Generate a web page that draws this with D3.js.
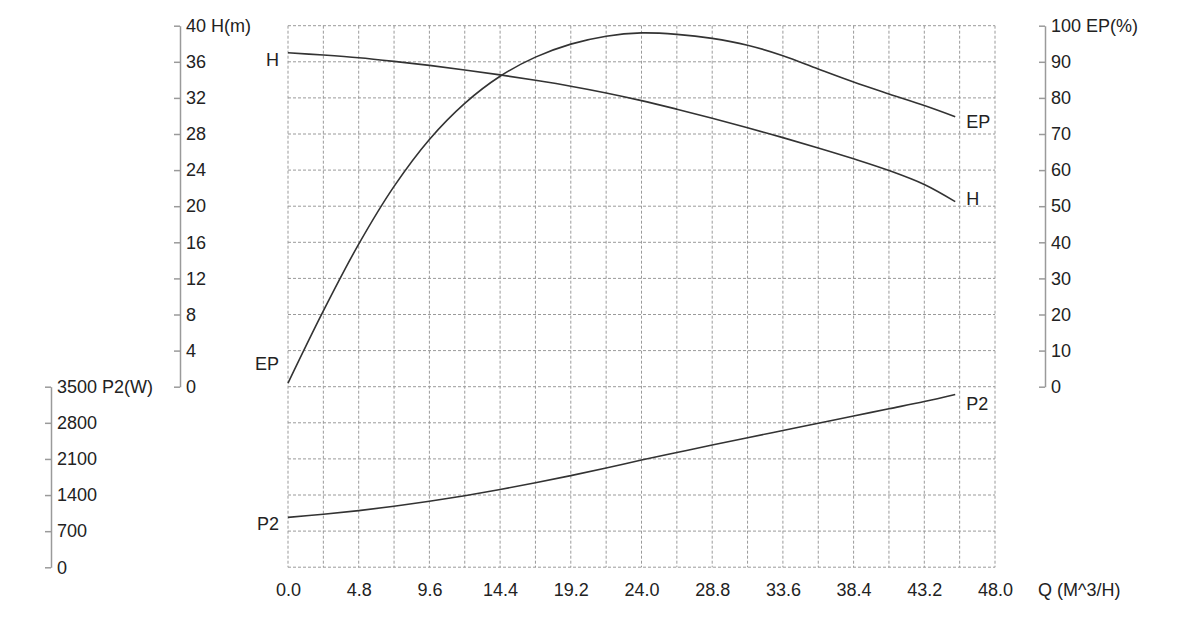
<!DOCTYPE html>
<html>
<head>
<meta charset="utf-8">
<script src="https://cdn.jsdelivr.net/npm/d3@7"></script>
<style>
  body { margin: 0; background: #fff; }
  text { font-family: "Liberation Sans", Arial, Helvetica, sans-serif; fill: #222; }
</style>
</head>
<body>
<script>
const width = 1183;
const height = 626;

// flow points (m^3/h) the curves were read at
const flowQ = [0, 2.4, 4.8, 7.2, 9.6, 12, 14.4, 16.8, 19.2, 21.6, 24, 26.4, 28.8, 31.2, 33.6, 36, 38.4, 40.8, 43.2, 45.3];
const headH = [37.0, 36.75, 36.45, 36.05, 35.6, 35.1, 34.55, 33.95, 33.3, 32.55, 31.7, 30.75, 29.75, 28.7, 27.6, 26.45, 25.25, 23.95, 22.4, 20.5];
const effEP = [1, 21, 39.5, 55.5, 68.5, 78.5, 86, 91.3, 94.9, 97.1, 98.0, 97.6, 96.5, 94.6, 91.7, 88.0, 84.4, 81.1, 77.9, 74.8];
const powerP2 = [967, 1028, 1099, 1183, 1279, 1387, 1507, 1637, 1777, 1925, 2079, 2225, 2370, 2512, 2652, 2792, 2932, 3072, 3212, 3350];

const qTicks = [0, 4.8, 9.6, 14.4, 19.2, 24, 28.8, 33.6, 38.4, 43.2, 48];
const hTicks = [0, 4, 8, 12, 16, 20, 24, 28, 32, 36, 40];
const epTicks = [0, 10, 20, 30, 40, 50, 60, 70, 80, 90, 100];
const p2Ticks = [0, 700, 1400, 2100, 2800, 3500];

const svg = d3.select("body").append("svg")
  .attr("width", width)
  .attr("height", height);

const x = d3.scaleLinear().domain([0, 48]).range([288, 995]);
const yH = d3.scaleLinear().domain([0, 40]).range([386.7, 25.7]);
const yEP = d3.scaleLinear().domain([0, 100]).range([386.7, 25.7]);
const yP2 = d3.scaleLinear().domain([0, 3500]).range([567.3, 386.7]);

// grid: one column per 2.4, one row per 4 m (continued down through the P2 block)
const gridCols = d3.range(0, 48.01, 2.4);
const rowStep = yH(0) - yH(4);
const gridRows = d3.range(0, 16).map(i => yH(40) + i * rowStep).filter(v => v <= yP2(0) + 1);

const grid = svg.append("g")
  .attr("stroke", "#9a9a9a")
  .attr("stroke-width", 1)
  .attr("stroke-dasharray", "3,2");
grid.selectAll(".vline")
  .data(gridCols)
  .join("line")
  .attr("x1", d => x(d)).attr("x2", d => x(d))
  .attr("y1", yH(40)).attr("y2", yP2(0));
grid.selectAll(".hline")
  .data(gridRows)
  .join("line")
  .attr("x1", x(0)).attr("x2", x(48))
  .attr("y1", d => d).attr("y2", d => d);

function styleAxis(g) {
  g.select(".domain").attr("stroke", "#9a9a9a").attr("stroke-width", 1.5);
  g.selectAll(".tick line").attr("stroke", "#9a9a9a").attr("stroke-width", 1.5);
  g.selectAll(".tick text")
    .attr("fill", "#222")
    .style("font-size", "18px")
    .style("font-family", '"Liberation Sans", Arial, sans-serif');
}

// left axes: ticks on the left side, labels on the right
svg.append("g")
  .attr("transform", "translate(180,0)")
  .call(d3.axisRight(yH).tickValues(hTicks).tickSizeInner(-6).tickSizeOuter(0).tickPadding(6)
    .tickFormat(d => d === 40 ? "40 H(m)" : d))
  .call(styleAxis);

svg.append("g")
  .attr("transform", "translate(51,0)")
  .call(d3.axisRight(yP2).tickValues(p2Ticks).tickSizeInner(-6).tickSizeOuter(0).tickPadding(6)
    .tickFormat(d => d === 3500 ? "3500 P2(W)" : d))
  .call(styleAxis);

svg.append("g")
  .attr("transform", "translate(1045,0)")
  .call(d3.axisRight(yEP).tickValues(epTicks).tickSizeInner(-6).tickSizeOuter(0).tickPadding(6)
    .tickFormat(d => d === 100 ? "100 EP(%)" : d))
  .call(styleAxis);

// bottom flow labels, no axis line
const xAxis = svg.append("g")
  .attr("transform", "translate(0,590)")
  .call(d3.axisBottom(x).tickValues(qTicks).tickSize(0).tickPadding(0).tickFormat(d3.format(".1f")));
xAxis.select(".domain").remove();
xAxis.selectAll(".tick text")
  .attr("dy", "0.35em")
  .attr("fill", "#222")
  .style("font-size", "18px")
  .style("font-family", '"Liberation Sans", Arial, sans-serif');

svg.append("text")
  .attr("x", 1038)
  .attr("y", 590)
  .attr("dy", "0.35em")
  .style("font-size", "18px")
  .text("Q (M^3/H)");

// curves
const series = [
  { name: "H", values: headH, y: yH, left: [-9, 7], right: [11, -3] },
  { name: "EP", values: effEP, y: yEP, left: [-9, -19], right: [11, 5] },
  { name: "P2", values: powerP2, y: yP2, left: [-9, 6], right: [11, 9] }
];

series.forEach(s => {
  const pts = flowQ.map((q, i) => [q, s.values[i]]);
  const line = d3.line()
    .x(d => x(d[0]))
    .y(d => s.y(d[1]))
    .curve(d3.curveCatmullRom);

  svg.append("path")
    .datum(pts)
    .attr("d", line)
    .attr("fill", "none")
    .attr("stroke", "#333")
    .attr("stroke-width", 1.6);

  const first = pts[0], last = pts[pts.length - 1];
  svg.append("text")
    .attr("x", x(first[0]) + s.left[0])
    .attr("y", s.y(first[1]) + s.left[1])
    .attr("dy", "0.35em")
    .attr("text-anchor", "end")
    .style("font-size", "18px")
    .text(s.name);
  svg.append("text")
    .attr("x", x(last[0]) + s.right[0])
    .attr("y", s.y(last[1]) + s.right[1])
    .attr("dy", "0.35em")
    .style("font-size", "18px")
    .text(s.name);
});
</script>
</body>
</html>
